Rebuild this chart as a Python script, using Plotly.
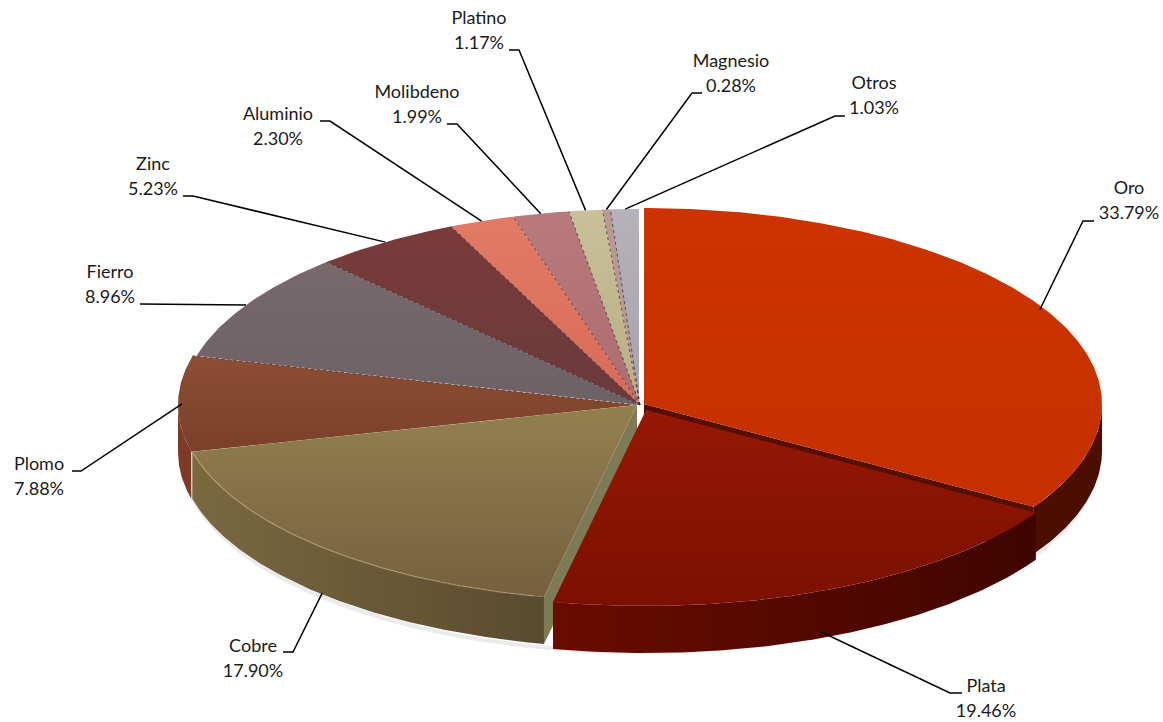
import numpy as np
import plotly.graph_objects as go

categories = ["Oro", "Plata", "Cobre", "Plomo", "Fierro", "Zinc", "Aluminio", "Molibdeno", "Platino", "Magnesio", "Otros"]
shares = [33.79, 19.46, 17.90, 7.88, 8.96, 5.23, 2.30, 1.99, 1.17, 0.28, 1.03]
percent_labels = ["33.79%", "19.46%", "17.90%", "7.88%", "8.96%", "5.23%", "2.30%", "1.99%", "1.17%", "0.28%", "1.03%"]

# Styles and layout, separate from the data
CX, CY, RX, RY, DEPTH = 640, 405, 458, 196, 47
offsets = [(4, -1), (6, 5), (-3, 0), (-4, 0), (0, 0), (0, 0), (0, 0), (0, 0), (0, 0), (0, 0), (-1, 0)]
# vertical gradients run from the bottom of the shape to its top on this reversed axis
top_colors = [("#c63000", "#cb3400"), ("#7c1000", "#961806"), ("#75603f", "#94804e"), ("#7a4028", "#8c4e34"),
              ("#6c6165", "#77696c"), ("#6b3a3c", "#7a3a3a"), ("#d96a58", "#e27a66"), ("#ad6c6e", "#b87a7c"),
              ("#b8ae84", "#c9c09a"), ("#b79a96", "#b79a96"), ("#a6a2ac", "#b6b2bc")]
side_colors = [("#4a0f00", "#4a0f00"), ("#6a0c00", "#3f0500"), ("#7a6840", "#5a4a30"), ("#7e3a24", "#7e3a24"),
               ("#555", "#555"), ("#555", "#555"), ("#888", "#888"), ("#888", "#888"),
               ("#999", "#999"), ("#999", "#999"), ("#999", "#999")]
cut_colors = {0: "#571000", 2: "#7d7a55"}
label_xy = [(1129, 189), (986, 687), (253, 647), (39, 465), (110, 273), (153, 165), (278, 115), (417, 93), (479, 19), (731, 62), (874, 84)]
line_gap = 25.5
elbows = [[(1094, 221), (1083, 221)], [(962, 693), (950, 693)], [(283, 652), (293, 652)], [(72, 471), (81, 471)],
          [(140, 304)], [(183, 196), (193, 196)], [(320, 121), (330, 121)], [(447, 124), (457, 124)],
          [(509, 50), (519, 50)], [(702, 93), (692, 93)], [(845, 116), (835, 116)]]

total = sum(shares)
edges = np.cumsum([0] + shares) / total * 2 * np.pi


def pt(t, off=(0, 0), dz=0.0):
    return CX + off[0] + RX * np.sin(t), CY + off[1] - RY * np.cos(t) + dz


def arc(a, b, off=(0, 0), dz=0.0):
    n = max(int((b - a) / 0.01), 2)
    return pt(np.linspace(a, b, n), off, dz)


def center(off):
    return CX + off[0], CY + off[1]


fig = go.Figure()


def poly(x, y, colors, kind="vertical", name=""):
    x, y = list(x), list(y)
    g = dict(type=kind, colorscale=[[0, colors[0]], [1, colors[1]]])
    fig.add_trace(go.Scatter(x=x + x[:1], y=y + y[:1], mode="lines", fill="toself", line=dict(width=0),
                             fillgradient=g, hoverinfo="skip", showlegend=False, name=name))


def side(i):
    a, b = max(edges[i], np.pi / 2), min(edges[i + 1], 3 * np.pi / 2)
    if b <= a:
        return
    x, y = arc(a, b, offsets[i])
    x2, y2 = arc(a, b, offsets[i], DEPTH)
    poly(list(x) + list(x2[::-1]), list(y) + list(y2[::-1]), side_colors[i], "horizontal", categories[i] + " lado")


def cut(i, t):
    x0, y0 = center(offsets[i])
    x1, y1 = pt(t, offsets[i])
    c = cut_colors[i]
    poly([x0, x1, x1, x0], [y0, y1, y1 + DEPTH, y0 + DEPTH], (c, c), "vertical", categories[i] + " corte")


def top(i):
    x, y = arc(edges[i], edges[i + 1], offsets[i])
    x0, y0 = center(offsets[i])
    poly([x0] + list(x), [y0] + list(y), top_colors[i], "vertical", categories[i])


# soft shadow around the front of the pie
sx, sy = arc(np.pi / 2, 3 * np.pi / 2, (0, 2), DEPTH + 2)
fig.add_trace(go.Scatter(x=sx, y=sy, mode="lines", line=dict(color="rgba(120,120,120,0.15)", width=4),
                         hoverinfo="skip", showlegend=False))

for i in [3, 2, 0]:
    side(i)
cut(0, edges[1])
for i in range(10, 2, -1):
    top(i)
for i in range(3, 10):
    xs, ys = pt(edges[i + 1], offsets[i])
    x0, y0 = center(offsets[i])
    fig.add_trace(go.Scatter(x=[x0, xs], y=[y0, ys], mode="lines",
                             line=dict(color="rgba(50,25,25,0.65)", width=1, dash="dot"),
                             hoverinfo="skip", showlegend=False))
top(0)
cut(2, edges[2])
top(2)
# pale bevel along the outer edge of Cobre
bx, by = arc(edges[2] + 0.02, edges[3] - 0.01, offsets[2])
fig.add_trace(go.Scatter(x=bx, y=by, mode="lines", line=dict(color="rgba(205,190,140,0.35)", width=1.5),
                         hoverinfo="skip", showlegend=False))
side(1)
top(1)

# leader lines, anchored on each slice's middle angle
for i in range(len(shares)):
    mid = (edges[i] + edges[i + 1]) / 2
    dz = DEPTH if i in (1, 2) else 0
    ax, ay = pt(mid, (0, 0), dz)
    xs = [p[0] for p in elbows[i]] + [ax]
    ys = [p[1] for p in elbows[i]] + [ay]
    fig.add_trace(go.Scatter(x=xs, y=ys, mode="lines", line=dict(color="#000000", width=1.5),
                             hoverinfo="skip", showlegend=False))

fnt = dict(family="Lato, Carlito, sans-serif", size=18, color="#1a1a1a")
fig.add_trace(go.Scatter(x=[p[0] for p in label_xy], y=[p[1] for p in label_xy], mode="text", text=categories,
                         textfont=fnt, textposition="middle center", hoverinfo="skip", showlegend=False))
fig.add_trace(go.Scatter(x=[p[0] for p in label_xy], y=[p[1] + line_gap for p in label_xy], mode="text", text=percent_labels,
                         textfont=fnt, textposition="middle center", hoverinfo="skip", showlegend=False))

fig.update_layout(width=1163, height=722, margin=dict(l=0, r=0, t=0, b=0), paper_bgcolor="white", plot_bgcolor="white",
                  xaxis=dict(range=[0, 1163], visible=False, fixedrange=True),
                  yaxis=dict(range=[722, 0], visible=False, fixedrange=True), showlegend=False)
fig.write_html("out.html", config={"displayModeBar": False},
               post_script="document.body.style.margin='0';document.body.style.overflow='hidden';")
